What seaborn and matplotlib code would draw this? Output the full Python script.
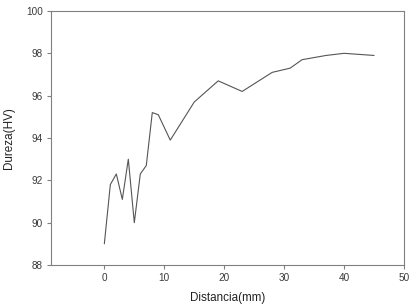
import matplotlib
matplotlib.use("Agg")
import matplotlib.pyplot as plt
import seaborn as sns
import pandas as pd

distancia = [0, 1, 2, 3, 4, 5, 6, 7, 8, 9, 11, 15, 19, 23, 28, 31, 33, 35, 37, 40, 45]
dureza = [89.0, 91.8, 92.3, 91.1, 93.0, 90.0, 92.3, 92.7, 95.2, 95.1, 93.9, 95.7, 96.7, 96.2,
          97.1, 97.3, 97.7, 97.8, 97.9, 98.0, 97.9]
xticks = [0, 10, 20, 30, 40, 50]
yticks = [88, 90, 92, 94, 96, 98, 100]

sns.set_style("white")
plt.rcParams['font.family'] = ['Liberation Sans', 'DejaVu Sans']

df = pd.DataFrame({"Distancia": distancia, "Dureza": dureza})

fig = plt.figure(figsize=(4.16, 3.07), dpi=100)
ax = fig.add_axes([51/416, 42/307, 353/416, 254/307])
sns.lineplot(data=df, x="Distancia", y="Dureza", ax=ax, color="#555555", linewidth=0.8, sort=False)

ax.set_xlim(-8.9, 50)
ax.set_ylim(88, 100)
ax.set_xticks(xticks)
ax.set_yticks(yticks)
ax.tick_params(axis='both', direction='out', length=3, width=0.8, color="#808080",
               labelsize=7.2, labelcolor="#3a3a3a", pad=3)
ax.tick_params(left=True, bottom=True)
for s in ax.spines.values():
    s.set_color("#808080")
    s.set_linewidth(0.8)
ax.set_xlabel("Distancia(mm)", fontsize=8.4, color="#222222", labelpad=6)
ax.set_ylabel("Dureza(HV)", fontsize=8.4, color="#222222", labelpad=8)

fig.savefig("out.png", dpi=100)
